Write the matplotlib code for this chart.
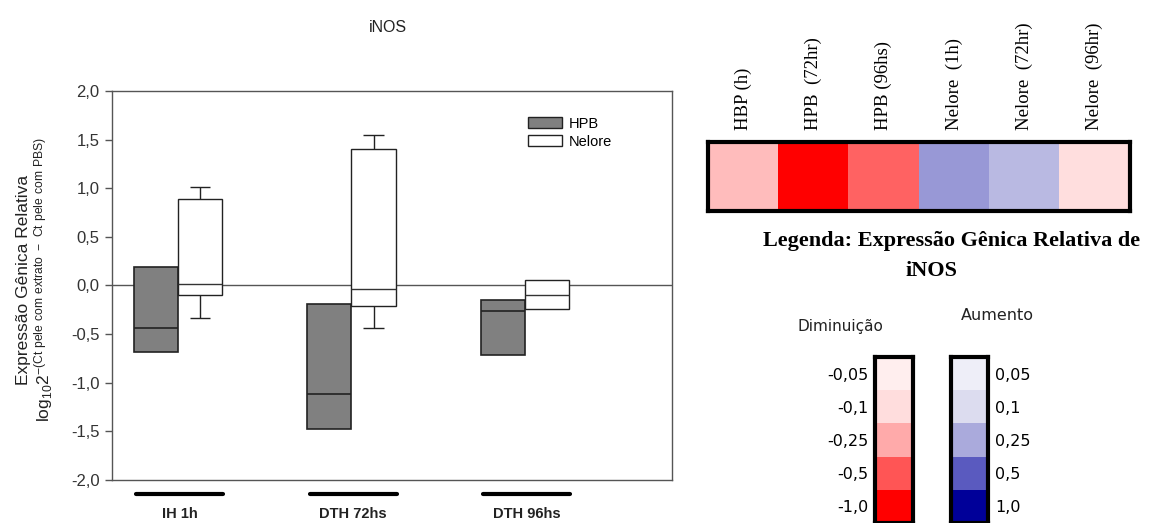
import numpy as np
import matplotlib.pyplot as plt
from matplotlib.colors import ListedColormap
from matplotlib.patches import Patch
from matplotlib import transforms

plt.rcParams['font.family'] = ['Liberation Sans', 'DejaVu Sans']
plt.rcParams['mathtext.default'] = 'regular'

# dados do boxplot
grupos = ['IH 1h', 'DTH 72hs', 'DTH 96hs']
hpb_q1 = [-0.68, -1.48, -0.71]
hpb_med = [-0.44, -1.12, -0.26]
hpb_q3 = [0.195, -0.19, -0.15]
nel_q1 = [-0.10, -0.21, -0.245]
nel_med = [0.02, -0.04, -0.095]
nel_q3 = [0.885, 1.405, 0.055]
nel_wmin = [-0.33, -0.435, None]
nel_wmax = [1.015, 1.55, None]
yticks = [-2.0, -1.5, -1.0, -0.5, 0.0, 0.5, 1.0, 1.5, 2.0]

# heatmap
heat_labels = ['HBP (h)', 'HPB  (72hr)', 'HPB (96hs)', 'Nelore  (1h)', 'Nelore  (72hr)', 'Nelore  (96hr)']
heat_colors = ['#ffbcbc', '#ff0000', '#ff6262', '#9898d6', '#b9b9e2', '#ffdede']

# escalas de cor
dim_labels = ['-0,05', '-0,1', '-0,25', '-0,5', '-1,0']
dim_colors = ['#ffeeee', '#ffdddd', '#ffaaaa', '#ff5555', '#ff0000']
aum_labels = ['0,05', '0,1', '0,25', '0,5', '1,0']
aum_colors = ['#eeeef8', '#dcdcef', '#aaaadc', '#5a5abf', '#000099']

W, H = 1151, 523
fig = plt.figure(figsize=(W / 100, H / 100), dpi=100)

def fax(x0, y0, x1, y1):
    # eixo a partir de coordenadas em pixels (y a partir do topo)
    return fig.add_axes([x0 / W, 1 - y1 / H, (x1 - x0) / W, (y1 - y0) / H])

ax = fax(112, 91, 672, 480)
pos = np.arange(1, 4)
w = 0.254
ax.bar(pos - w / 2, np.array(hpb_q3) - np.array(hpb_q1), bottom=hpb_q1, width=w,
       color='#808080', edgecolor='#222222', linewidth=1.2, zorder=3)
ax.bar(pos + w / 2, np.array(nel_q3) - np.array(nel_q1), bottom=nel_q1, width=w,
       color='white', edgecolor='#222222', linewidth=1.0, zorder=3)
for i, p in enumerate(pos):
    ax.hlines(hpb_med[i], p - w, p, color='#222222', lw=1.2, zorder=4)
    ax.hlines(nel_med[i], p, p + w, color='#333333', lw=1.0, zorder=4)
    if nel_wmax[i] is not None:
        xc = p + w / 2
        ax.vlines(xc, nel_q3[i], nel_wmax[i], color='#222222', lw=1.0)
        ax.vlines(xc, nel_wmin[i], nel_q1[i], color='#222222', lw=1.0)
        ax.hlines([nel_wmax[i], nel_wmin[i]], xc - 0.06, xc + 0.06, color='#222222', lw=1.0)
ax.axhline(0, color='#555555', lw=1.0, zorder=2)

ax.set_xlim(0.62, 3.847)
ax.set_ylim(-2.0, 2.0)
ax.set_yticks(yticks)
ax.set_yticklabels([f'{v:.1f}'.replace('.', ',') for v in yticks], fontsize=12, color='#333333')
ax.set_xticks([])
ax.tick_params(axis='y', length=5, width=1, color='#555555', pad=4)
for s in ax.spines.values():
    s.set_color('#555555')
    s.set_linewidth(1.0)

trans = transforms.blended_transform_factory(ax.transData, ax.transAxes)
for i, p in enumerate(pos):
    ax.plot([p - 0.24, p + 0.26], [-0.036, -0.036], color='black', lw=3,
            transform=trans, clip_on=False, solid_capstyle='round')
    ax.text(p + 0.01, -0.088, grupos[i], transform=trans, ha='center', va='center',
            fontsize=10.5, fontweight='bold', color='#222222')

leg = ax.legend(handles=[Patch(facecolor='#808080', edgecolor='#222222', label='HPB'),
                         Patch(facecolor='white', edgecolor='#222222', label='Nelore')],
                loc='upper left', bbox_to_anchor=(0.72, 0.968), frameon=False,
                fontsize=10.5, handlelength=2.3, handleheight=0.8, labelspacing=0.3,
                handletextpad=0.5)

fig.text(388 / W, 1 - 28 / H, 'iNOS', ha='center', va='center', fontsize=11.5, color='#222222')
fig.text(24 / W, 1 - 280 / H, 'Expressão Gênica Relativa', rotation=90,
         ha='center', va='center', fontsize=12.5, color='#222222')
fig.text(44 / W, 1 - 280 / H,
         r'log$_{10}$2$^{-(Ct\ pele\ com\ extrato\ -\ Ct\ pele\ com\ PBS)}$',
         rotation=90, ha='center', va='center', fontsize=12.5, color='#222222')

# heatmap
hx = fax(708, 142, 1130, 211)
hx.imshow(np.arange(len(heat_colors))[None, :], cmap=ListedColormap(heat_colors),
          aspect='auto', interpolation='nearest')
hx.set_yticks([])
hx.xaxis.tick_top()
hx.set_xticks(np.arange(len(heat_labels)))
hx.set_xticklabels(heat_labels, rotation=90, family=['Liberation Serif', 'DejaVu Serif'],
                   fontsize=13.5)
hx.tick_params(axis='x', length=0, pad=9)
for s in hx.spines.values():
    s.set_linewidth(3)

fig.text(952 / W, 1 - 241 / H, 'Legenda: Expressão Gênica Relativa de', ha='center', va='center',
         family=['Liberation Serif', 'DejaVu Serif'], fontweight='bold', fontsize=16)
fig.text(932 / W, 1 - 271 / H, 'iNOS', ha='center', va='center',
         family=['Liberation Serif', 'DejaVu Serif'], fontweight='bold', fontsize=16)

fig.text(840 / W, 1 - 327 / H, 'Diminuição', ha='center', va='center',
         family=['DejaVu Sans'], fontsize=11, color='#222222')
fig.text(997 / W, 1 - 315 / H, 'Aumento', ha='center', va='center',
         family=['DejaVu Sans'], fontsize=11.5, color='#222222')

rx = fax(875, 357, 913, 523)
rx.imshow(np.arange(5)[:, None], cmap=ListedColormap(dim_colors), aspect='auto',
          interpolation='nearest')
rx.set_xticks([])
rx.set_yticks(np.arange(5))
rx.set_yticklabels(dim_labels, fontsize=11.5, family=['DejaVu Sans'])
rx.tick_params(axis='y', length=0, pad=5)

bx = fax(951, 357, 988, 523)
bx.imshow(np.arange(5)[:, None], cmap=ListedColormap(aum_colors), aspect='auto',
          interpolation='nearest')
bx.set_xticks([])
bx.yaxis.tick_right()
bx.set_yticks(np.arange(5))
bx.set_yticklabels(aum_labels, fontsize=11.5, family=['DejaVu Sans'])
bx.tick_params(axis='y', length=0, pad=5)
for a in (rx, bx):
    for s in a.spines.values():
        s.set_linewidth(3)

fig.savefig('out.png', dpi=100)
